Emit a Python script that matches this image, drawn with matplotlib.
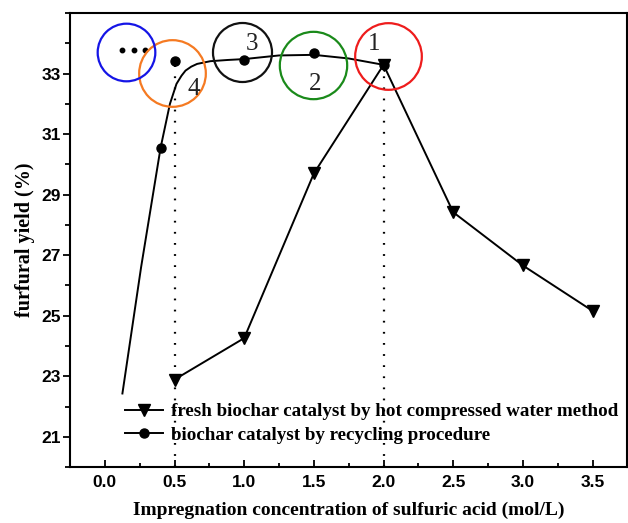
import matplotlib
matplotlib.use("Agg")
import matplotlib.pyplot as plt
from matplotlib.ticker import MultipleLocator

# fresh catalyst (hot compressed water method)
fresh_x = [0.5, 1.0, 1.5, 2.0, 2.5, 3.0, 3.5]
fresh_y = [22.89, 24.26, 29.70, 33.29, 28.42, 26.66, 25.16]

# recycled catalyst: measured points and the fitted trend line
recycle_x = [0.40, 0.5, 1.0, 1.5, 2.0]
recycle_y = [30.55, 33.41, 33.46, 33.68, 33.29]
trend_x = [0.126, 0.26, 0.40, 0.467, 0.514, 0.55, 0.579, 0.62, 0.662, 0.757, 0.88, 1.0,
           1.25, 1.5, 1.75, 2.0]
trend_y = [22.43, 26.6, 30.55, 32.0, 32.66, 32.93, 33.10, 33.23, 33.32, 33.41, 33.45, 33.48,
           33.60, 33.62, 33.50, 33.29]

# the "..." points inside the blue ring
dots_x = [0.126, 0.21, 0.29]
dots_y = [33.78, 33.78, 33.78]

# highlight rings: (label, ring centre, label position, colour, ring size)
rings = [
    ("1", (2.031, 33.57), (1.929, 33.98), "#ee1c1c", 48),
    ("2", (1.494, 33.29), (1.507, 32.66), "#1a8a1a", 48.5),
    ("3", (0.987, 33.72), (1.055, 33.98), "#111111", 42.5),
    ("4", (0.482, 33.02), (0.638, 32.50), "#f57a22", 48),
    ("",  (0.154, 33.72), None, "#1515e6", 41.5),
]

plt.rcParams["font.family"] = "Liberation Sans"

fig = plt.figure(figsize=(6.28, 5.23), dpi=100)
ax = fig.add_axes([0.1115, 0.107, 0.8875, 0.868])

ax.plot(fresh_x, fresh_y, color="black", lw=1.4, marker="v", ms=8,
        label="fresh biochar catalyst by hot compressed water method")
ax.plot(trend_x, trend_y, color="black", lw=1.4)
ax.plot(recycle_x, recycle_y, ls="none", color="black", marker="o", ms=6.5)
# legend proxy for the recycled series
ax.plot([], [], color="black", lw=1.4, marker="o", ms=6.5,
        label="biochar catalyst by recycling procedure")
ax.plot(dots_x, dots_y, ls="none", color="black", marker="o", ms=3.2)

# dotted drop lines at the two optimum concentrations
for xv, yv in [(0.5, recycle_y[1]), (2.0, fresh_y[3])]:
    ax.plot([xv, xv], [20.0, yv], color="black", lw=1.6, ls=(0, (0.8, 4.2)))

for label, centre, text_pos, col, size in rings:
    ax.plot(*centre, marker="o", ms=size, mfc="none", mec=col, mew=1.6,
            clip_on=False)
    if text_pos:
        ax.text(*text_pos, label, ha="center", va="center", fontsize=18,
                family="Liberation Serif", color="#222222")

ax.set_xlim(-0.25, 3.75)
ax.set_ylim(20.0, 35.0)
ax.xaxis.set_minor_locator(MultipleLocator(0.25))
ax.yaxis.set_minor_locator(MultipleLocator(1))
ax.set_yticks([21, 23, 25, 27, 29, 31, 33])
ax.set_xticks([0.0, 0.5, 1.0, 1.5, 2.0, 2.5, 3.0, 3.5])

ax.tick_params(axis="x", which="major", direction="in", length=5, width=1.3, pad=6)
ax.tick_params(axis="x", which="minor", direction="in", length=3, width=1.3)
ax.tick_params(axis="y", which="major", direction="out", length=5, width=1.3, pad=1.5)
ax.tick_params(axis="y", which="minor", direction="out", length=3.5, width=1.3)
for lab in ax.get_xticklabels() + ax.get_yticklabels():
    lab.set_fontweight("bold")
    lab.set_fontsize(12.5)
for sp in ax.spines.values():
    sp.set_linewidth(1.5)

ax.set_xlabel("Impregnation concentration of sulfuric acid (mol/L)",
              family="Liberation Serif", fontweight="bold", fontsize=14, labelpad=8.5)
ax.set_ylabel("furfural yield (%)", family="Liberation Serif",
              fontweight="bold", fontsize=14.5, labelpad=5)

ax.legend(loc="upper left", bbox_to_anchor=(0.098, 0.141), frameon=False,
          borderaxespad=0, borderpad=0, handlelength=2.0, handletextpad=0.45,
          labelspacing=0.33,
          prop={"family": "Liberation Serif", "weight": "bold", "size": 13.7})

fig.savefig("out.png", dpi=100)
